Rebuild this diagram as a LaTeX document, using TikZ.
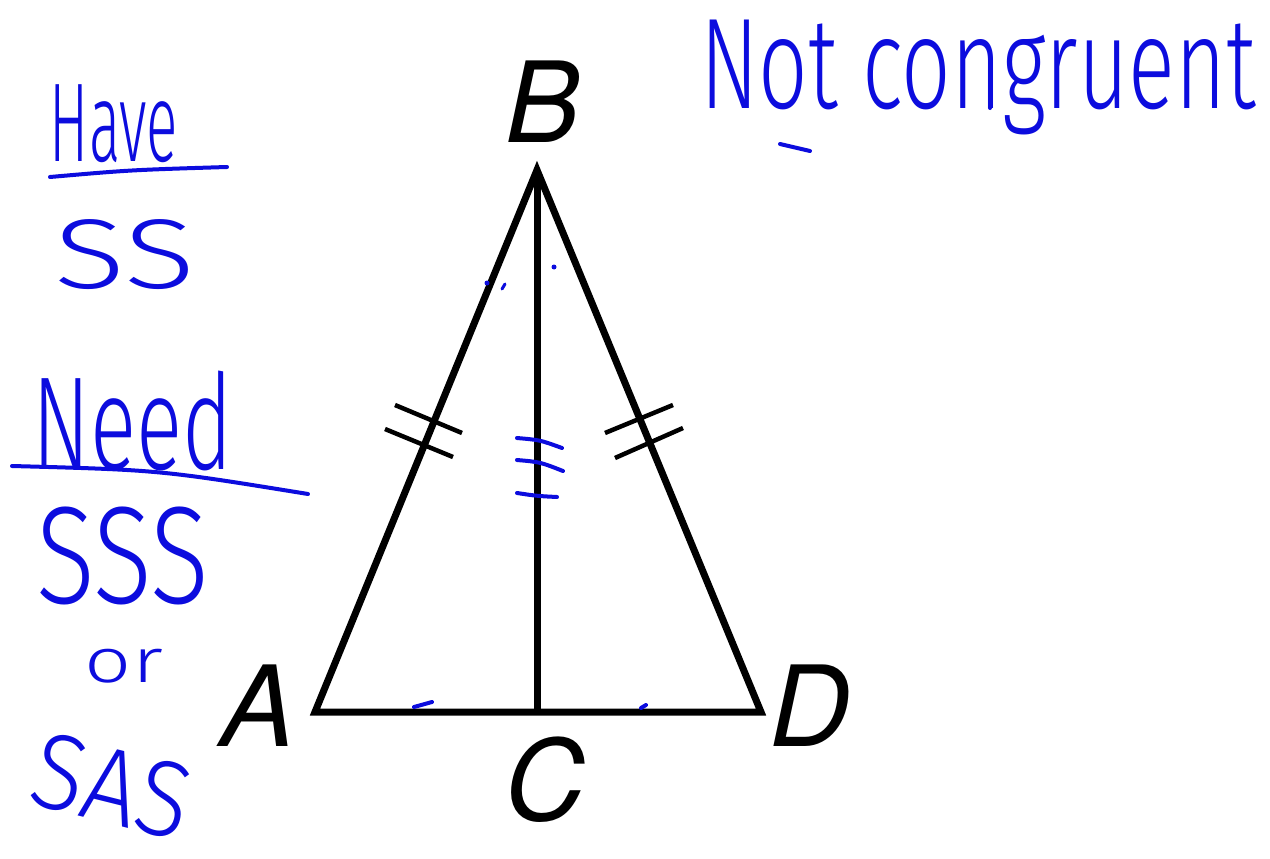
\documentclass[tikz,border=0pt]{standalone}
\usepackage{fontspec}
\usepackage{graphicx}
\newfontfamily\labelfont{TeX Gyre Heros}
\newfontfamily\handfont{Fira Sans Light}
\definecolor{ink}{RGB}{12,12,222}
\newcommand{\handtext}[3]{\resizebox*{#1pt}{#2pt}{\handfont #3}}

\begin{document}
\begin{tikzpicture}[
						x=1pt, y=-1pt,
						line cap=round,
						line join=round,
						side/.style={line width=7pt, line join=miter, line cap=butt},
						tickmark/.style={line width=4.5pt, line cap=butt},
						pen/.style={ink, line width=4pt},
						vertex/.style={font=\labelfont\itshape\fontsize{112}{120}\selectfont, inner sep=0pt},
						hand/.style={ink, inner sep=0pt}
						]
						
						% Frame
						\useasboundingbox[fill=white] (0,0) rectangle (1270,859);
						
						% Vertices
						\coordinate (A) at (315,712);
						\coordinate (B) at (537,170);
						\coordinate (C) at (537,712);
						\coordinate (D) at (761,712);
						
						% Triangle and median
						\draw[side] (A) -- (B) -- (D) -- cycle;
						\draw[side] (B) -- (C);
						
						% Equal side marks
						\draw[tickmark] (395,405) -- (462,433);
						\draw[tickmark] (385,429) -- (453,457);
						\draw[tickmark] (605,433) -- (673,405);
						\draw[tickmark] (615,458) -- (683,428);
						
						% Vertex labels
						\node[vertex] (labB) at (543,102) {B};
						\node[vertex] (labA) at (258,706) {A};
						\node[vertex] (labD) at (810,706) {D};
						\node[vertex] (labC) at (545,780) {C};
						
						% Pen marks on the figure
						\draw[pen] (517,438) .. controls (540,440) .. (562,448);
						\draw[pen] (517,460) .. controls (540,462) .. (563,471);
						\draw[pen] (517,493) .. controls (537,496) .. (557,497);
						\draw[pen] (414,707) -- (432,702);
						\draw[pen] (641,708) -- (646,705);
						\fill[ink] (487,283) circle (2.5);
						\draw[pen, line width=3pt] (502,289) -- (505,284);
						\fill[ink] (554,267) circle (2.5);
						
						% Left column notes
						\node[hand] (have) at (114,124) {\handtext{128}{78}{Have}};
						\draw[pen] (50,177) .. controls (130,170) .. (227,167);
						\node[hand] (ss) at (125,255) {\handtext{140}{70}{SS}};
						\node[hand] (need) at (133,421) {\handtext{200}{100}{Need}};
						\draw[pen] (12,466) .. controls (160,470) .. (308,494);
						\node[hand] (sss) at (123,556) {\handtext{173}{98}{SSS}};
						\node[hand] (or) at (124,666) {\handtext{78}{34}{or}};
						\node[hand, rotate=-14] (sas) at (112,786) {\handtext{160}{76}{SAS}};
						
						% Top right note
						\node[hand] (notcong) at (978,77) {\handtext{555}{115}{Not congruent}};
						\draw[pen] (780,144) -- (810,151);
						\fill[ink] (990,108) circle (2);
						
					\end{tikzpicture}
\end{document}
